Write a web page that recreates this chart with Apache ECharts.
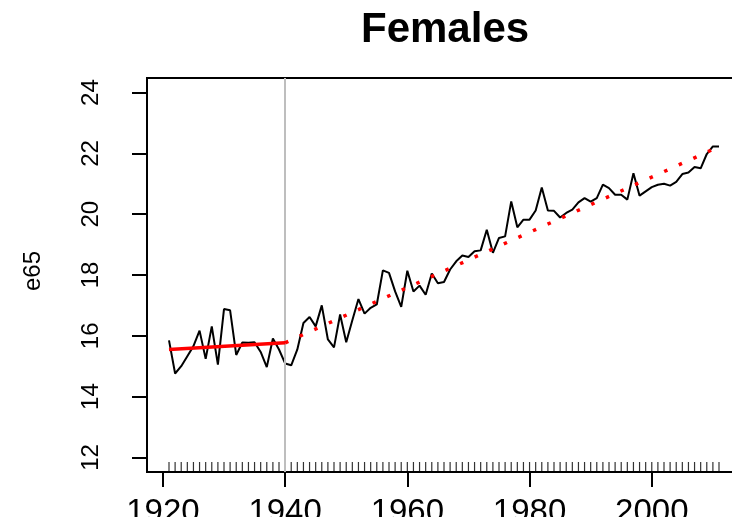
<!DOCTYPE html>
<html>
<head>
<meta charset="utf-8">
<script src="https://cdn.jsdelivr.net/npm/echarts@6/dist/echarts.min.js"></script>
<style>
  html, body { margin: 0; padding: 0; background: #ffffff; }
  #chart { width: 732px; height: 517px; }
</style>
</head>
<body>
<div id="chart"></div>
<script>
// Life expectancy at age 65, females, one value per year from 1921
const firstYear = 1921;
const e65 = [
  15.85, 14.76, 15.00, 15.33, 15.66, 16.17, 15.24, 16.31, 15.05, 16.88,
  16.84, 15.37, 15.78, 15.77, 15.79, 15.47, 14.97, 15.91, 15.55, 15.09,
  15.03, 15.55, 16.42, 16.62, 16.31, 17.00, 15.88, 15.62, 16.70, 15.79,
  16.51, 17.21, 16.73, 16.92, 17.03, 18.15, 18.07, 17.46, 16.95, 18.14,
  17.46, 17.65, 17.35, 18.05, 17.73, 17.77, 18.18, 18.45, 18.64, 18.59,
  18.78, 18.81, 19.49, 18.73, 19.22, 19.27, 20.42, 19.57, 19.82, 19.82,
  20.12, 20.88, 20.12, 20.11, 19.89, 20.04, 20.15, 20.39, 20.53, 20.41,
  20.53, 20.97, 20.86, 20.64, 20.64, 20.48, 21.35, 20.61, 20.75, 20.89,
  20.97, 21.00, 20.94, 21.06, 21.32, 21.37, 21.55, 21.51, 21.98, 22.23,
  22.23
];
const years = e65.map((_, i) => firstYear + i);

// Fitted trend before the break (solid) and after it (dotted)
const breakYear = 1940;
const fitBeforeYears = [1921, 1940];
const fitBeforeValues = [15.55, 15.77];
const fitAfterYears = [1940, 2011];
const fitAfterValues = [15.77, 22.22];

// Axis ticks
const xTicks = [1920, 1940, 1960, 1980, 2000];
const yTicks = [12, 14, 16, 18, 20, 22, 24];

const pairs = (xs, ys) => xs.map((x, i) => [x, ys[i]]);
const FONT = 'Liberation Sans, Arial, Helvetica, sans-serif';

const chart = echarts.init(document.getElementById('chart'), null, { renderer: 'canvas' });

chart.setOption({
  animation: false,
  backgroundColor: '#ffffff',
  title: {
    text: 'Females',
    left: 356,
    top: 4,
    textStyle: { fontFamily: FONT, fontWeight: 'bold', fontSize: 42, color: '#000000' }
  },
  grid: {
    left: 147,
    top: 78,
    width: 594,
    height: 394,
    outerBoundsMode: 'none',
    containLabel: false,
    show: true,
    borderColor: '#000000',
    borderWidth: 2,
    backgroundColor: 'transparent'
  },
  xAxis: {
    type: 'value',
    min: 1917.4,
    max: 2014.6,
    axisLine: { show: false },
    splitLine: { show: false },
    axisTick: {
      show: true,
      customValues: xTicks,
      length: 15,
      lineStyle: { color: '#000000', width: 2 }
    },
    axisLabel: {
      customValues: xTicks,
      margin: 24,
      fontFamily: FONT,
      fontSize: 33,
      color: '#000000',
      formatter: v => String(v)
    }
  },
  yAxis: {
    type: 'value',
    min: 11.52,
    max: 24.48,
    name: 'e65',
    nameLocation: 'middle',
    nameRotate: 90,
    nameGap: 102,
    nameTextStyle: { fontFamily: FONT, fontSize: 24, color: '#000000', padding: [0, 0, 0, 8] },
    axisLine: { show: false },
    splitLine: { show: false },
    axisTick: {
      show: true,
      customValues: yTicks,
      length: 15,
      lineStyle: { color: '#000000', width: 2 }
    },
    axisLabel: {
      customValues: yTicks,
      rotate: 90,
      align: 'center',
      verticalAlign: 'middle',
      margin: 56,
      fontFamily: FONT,
      fontSize: 24,
      color: '#000000'
    }
  },
  series: [
    {
      // one rug tick per observed year along the bottom edge
      type: 'scatter',
      data: years.map(y => [y, 11.52]),
      symbol: 'rect',
      symbolSize: [1.2, 10],
      symbolOffset: [0, -5],
      itemStyle: { color: '#000000' },
      silent: true,
      clip: false,
      z: 2
    },
    {
      type: 'line',
      data: pairs(years, e65),
      showSymbol: false,
      lineStyle: { color: '#000000', width: 2 },
      silent: true,
      z: 3
    },
    {
      // vertical reference at the break year
      type: 'line',
      data: [],
      markLine: {
        silent: true,
        symbol: ['none', 'none'],
        label: { show: false },
        lineStyle: { color: '#BEBEBE', width: 2, type: 'solid' },
        data: [{ xAxis: breakYear }]
      },
      z: 4
    },
    {
      type: 'line',
      data: pairs(fitBeforeYears, fitBeforeValues),
      showSymbol: false,
      lineStyle: { color: '#FF0000', width: 3.5 },
      silent: true,
      z: 5
    },
    {
      type: 'line',
      data: pairs(fitAfterYears, fitAfterValues),
      showSymbol: false,
      lineStyle: { color: '#FF0000', width: 3.5, type: [3.5, 12.5], cap: 'butt' },
      silent: true,
      z: 5
    }
  ]
});
</script>
</body>
</html>
